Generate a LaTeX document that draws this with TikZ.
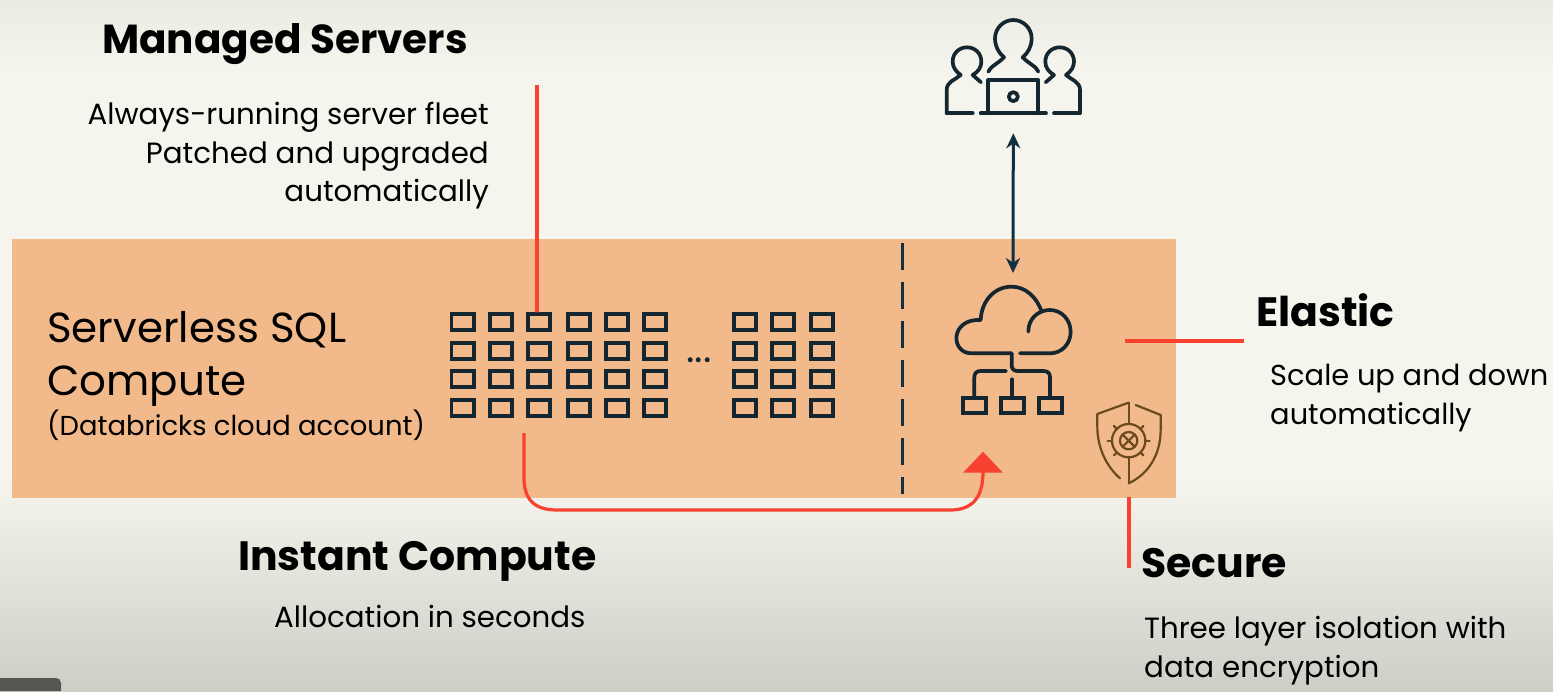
\documentclass[tikz,border=0pt]{standalone}
\usepackage{fontspec}
\setmainfont{Poppins}
\usetikzlibrary{arrows.meta}
\definecolor{bgA}{HTML}{EBEBE4}
\definecolor{bgB}{HTML}{F5F5EE}
\definecolor{bgC}{HTML}{CECEC6}
\definecolor{band}{HTML}{F2B98A}
\definecolor{ink}{HTML}{14262F}
\definecolor{navy}{HTML}{12303F}
\definecolor{redl}{HTML}{F9412F}
\definecolor{brownl}{HTML}{6B4A1E}
\tikzset{
  head/.style={font=\fontsize{41}{46}\selectfont\bfseries, inner sep=0pt, text=black},
  body/.style={font=\fontsize{29.3}{38.5}\selectfont, inner sep=0pt, text=black},
  title/.style={font=\fontsize{42}{53}\selectfont, inner sep=0pt, text=black},
  srv/.style={draw=ink, line width=3.6pt, minimum width=22.5pt, minimum height=15.5pt, inner sep=0pt},
  leaf/.style={draw=ink, line width=3.4pt, minimum width=23pt, minimum height=15pt, inner sep=0pt},
  redline/.style={draw=redl, line width=3.2pt},
  iconline/.style={draw=ink, line width=3.7pt, line cap=round, line join=round},
  shieldline/.style={draw=brownl, line width=2.2pt, line cap=round, line join=round},
}
\begin{document}
\begin{tikzpicture}[x=1pt,y=-1pt]
\useasboundingbox (0,0) rectangle (1553,691);
% background
\fill[top color=bgA, bottom color=bgB, draw=none] (0,0) rectangle (1553,70);
\fill[bgB] (0,69) rectangle (1553,481);
\fill[top color=bgB, bottom color=bgC, draw=none] (0,480) rectangle (1553,691);
\fill[black!65!bgB] (0,678) -- (56,678) .. controls (59,678) and (61,680) .. (61,683) -- (61,691) -- (0,691) -- cycle;
% band
\fill[band] (12,239) rectangle (1176,498);
% texts
\node[head, anchor=base west, font=\fontsize{40.5}{46}\selectfont\bfseries] (managed) at (102,53) {Managed Servers};
\node[body, anchor=north east, align=right] (managedtxt) at (489,102) {Always-running server fleet\\Patched and upgraded\\automatically};
\node[title, anchor=north west, align=left] (sqltitle) at (47,311) {Serverless SQL\\Compute};
\node[body, anchor=base west, font=\fontsize{27.4}{32}\selectfont] (sqlsub) at (47,435) {(Databricks cloud account)};
\node[head, anchor=base west] (elastic) at (1256,326) {Elastic};
\node[body, anchor=north west, align=left, font=\fontsize{28.9}{38.5}\selectfont] (elastictxt) at (1270,364) {Scale up and down\\automatically};
\node[head, anchor=base west] (instant) at (238,570) {Instant Compute};
\node[body, anchor=base west] (instanttxt) at (274,627) {Allocation in seconds};
\node[head, anchor=base west] (secure) at (1141,577) {Secure};
\node[body, anchor=north west, align=left] (securetxt) at (1144,616) {Three layer isolation with\\data encryption};
% server grid
\foreach \c/\x in {1/462.7,2/501,3/539,4/579,5/617,6/655,7/745,8/783,9/822}
  \foreach \r/\y in {1/322,2/351,3/379,4/408}
    \node[srv] (s\c-\r) at (\x,\y) {};
\node[font=\fontsize{40}{42}\selectfont, inner sep=0pt, text=ink, anchor=base] (dots) at (699,362) {...};
% dashed divider
\coordinate (divT) at (902,243);
\coordinate (divB) at (902,494);
\draw[navy, line width=3pt, dash pattern=on 27pt off 12pt] (divT) -- (divB);
% users icon
\begin{scope}[shift={(930,10)}, x=0.3333pt, y=-0.3333pt]
  \draw[iconline] (175,185) .. controls (180,170) and (205,160) .. (222,142)
     .. controls (205,128) and (195,108) .. (195,85)
     .. controls (195,55) and (220,30) .. (250,30)
     .. controls (280,30) and (305,55) .. (305,85)
     .. controls (305,108) and (295,128) .. (278,142)
     .. controls (295,160) and (320,170) .. (325,185);
  \draw[iconline] (50,310) -- (50,240) .. controls (50,215) and (75,210) .. (92,195)
     .. controls (78,185) and (68,172) .. (68,155)
     .. controls (68,130) and (87,112) .. (111,112)
     .. controls (135,112) and (154,130) .. (154,155)
     .. controls (154,172) and (145,185) .. (128,195)
     -- (153,217);
  \draw[iconline] (128,310) -- (50,310);
  \draw[iconline] (450,310) -- (450,240) .. controls (450,215) and (425,210) .. (408,195)
     .. controls (422,185) and (432,172) .. (432,155)
     .. controls (432,130) and (413,112) .. (389,112)
     .. controls (365,112) and (346,130) .. (346,155)
     .. controls (346,172) and (355,185) .. (372,195)
     -- (347,217);
  \draw[iconline] (372,310) -- (450,310);
  \draw[iconline] (175,310) -- (175,210) -- (325,210) -- (325,310);
  \draw[iconline] (152,310) -- (348,310);
  \draw[iconline] (250,260) circle (13.5);
  \coordinate (usersB) at (250,370);
\end{scope}
% cloud icon
\coordinate (cloudT) at (1013,273);
\draw[navy, line width=3pt, {Stealth[length=15pt,width=14pt]}-{Stealth[length=15pt,width=14pt]}] (usersB) -- (cloudT);
\begin{scope}[shift={(940,270)}, x=0.3333pt, y=-0.3333pt]
  \draw[iconline] (215,250) -- (95,250) .. controls (30,250) and (30,145) .. (122,150)
     .. controls (125,90) and (165,50) .. (215,50)
     .. controls (255,50) and (290,80) .. (305,125);
  \draw[iconline] (265,185) .. controls (265,145) and (295,120) .. (330,120)
     .. controls (365,120) and (392,150) .. (392,185)
     .. controls (392,222) and (365,250) .. (330,250) -- (240,250);
  \draw[iconline] (215,250) -- (215,285) .. controls (215,297) and (222,303) .. (232,303)
     -- (310,303) .. controls (324,303) and (330,310) .. (330,322) -- (330,378);
  \draw[iconline] (198,303) -- (122,303) .. controls (109,303) and (103,310) .. (103,322) -- (103,378);
  \draw[iconline] (215,328) -- (215,378);
  \node[leaf] (l1) at (103,406) {};
  \node[leaf] (l2) at (217,406) {};
  \node[leaf] (l3) at (332,406) {};
  \coordinate (arrowT) at (130,545);
\end{scope}
% shield
\begin{scope}[shift={(940,270)}, x=0.3333pt, y=-0.3333pt]
  \draw[shieldline] (566,398) -- (472,432) -- (472,470) .. controls (472,540) and (505,595) .. (540,625);
  \draw[shieldline] (587,405) -- (662,435) -- (662,480) .. controls (662,560) and (620,615) .. (566,640);
  \draw[shieldline] (566,398) -- (566,460);
  \draw[shieldline] (566,565) -- (566,640);
  \draw[shieldline] (566,512) circle (50);
  \draw[shieldline] (566,512) circle (26);
  \draw[shieldline] (550,496) -- (582,528) (582,496) -- (550,528);
  \draw[shieldline] (503,512) -- (516,512) (616,512) -- (629,512);
  \draw[shieldline] (522,468) -- (531,477) (610,468) -- (601,477) (522,556) -- (531,547) (610,556) -- (601,547);
  \coordinate (shieldB) at (566,680);
\end{scope}
% red connectors
\coordinate (mgrT) at (537,85);
\draw[redline] (mgrT) -- (s3-1.north -| mgrT) -- ++(0,-8);
\coordinate (elL) at (1125,341);
\coordinate (elR) at (1244,341);
\draw[redline] (elL) -- (elR);
\coordinate (secB) at (1129,568);
\draw[redline] (shieldB -| secB) -- (secB);
\coordinate (arrS) at (524,433);
\draw[redl, line width=3.2pt, -{Triangle[length=21pt,width=39pt]}] (arrS) -- (524,478)
  .. controls (524,500) and (535,510) .. (557,510) -- (950,510)
  .. controls (972,510) and (983,498) .. (983,472) -- (arrowT -| 983,452);
\end{tikzpicture}
\end{document}
